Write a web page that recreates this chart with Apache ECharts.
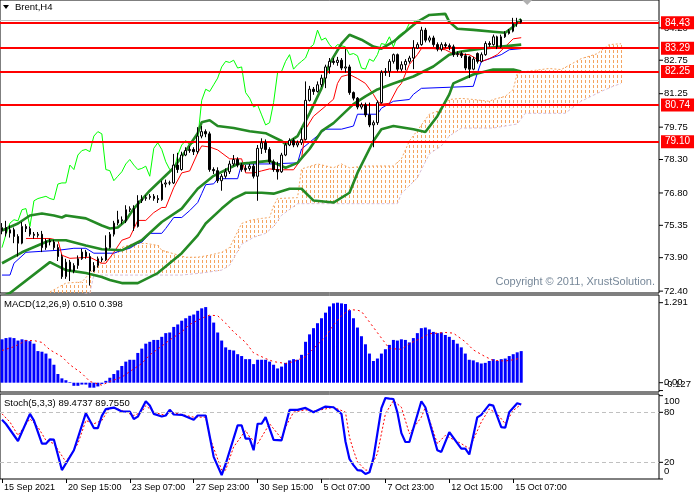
<!DOCTYPE html>
<html><head><meta charset="utf-8">
<script src="https://cdn.jsdelivr.net/npm/echarts@6/dist/echarts.min.js"></script>
<style>html,body{margin:0;padding:0;background:#fff}#c{width:700px;height:500px}</style>
</head><body><div id="c"></div>
<script>
// ---------- DATA ----------
const open = [75.10,75.25,75.00,75.15,74.85,74.55,75.30,75.20,74.95,74.90,
74.95,74.35,74.65,74.60,74.35,73.95,73.05,73.70,73.30,73.55,
73.85,74.15,73.95,73.30,73.55,73.85,73.80,74.35,74.95,75.45,
75.60,75.55,76.05,76.10,75.30,76.45,76.55,76.60,76.65,76.55,
76.50,77.20,77.25,77.25,78.05,77.85,78.50,78.70,78.75,78.65,
79.35,79.55,79.45,77.85,77.80,77.35,77.55,77.75,78.10,78.30,
78.05,77.85,77.90,78.00,77.55,78.80,79.05,78.75,78.20,77.85,
77.75,78.50,78.95,79.15,78.95,79.05,79.20,80.95,81.45,81.35,
81.65,81.95,82.45,82.70,82.65,82.75,82.40,82.45,81.30,81.05,
80.65,80.75,80.30,79.85,79.95,80.85,82.20,82.25,82.70,83.00,
82.35,82.55,82.70,82.85,83.30,83.45,84.10,83.65,83.75,83.45,
83.25,83.45,83.40,83.35,83.00,83.05,82.95,82.90,82.35,83.05,
82.70,83.00,83.50,83.45,83.80,83.35,83.80,83.95,84.05,84.40,
84.45];
const close = [75.25,75.00,75.15,74.85,74.55,75.30,75.20,74.95,74.90,74.95,
74.35,74.65,74.60,74.35,73.95,73.05,73.70,73.30,73.55,73.85,
74.15,73.95,73.30,73.55,73.85,73.80,74.35,74.95,75.45,75.60,
75.55,76.05,76.10,75.30,76.45,76.55,76.60,76.65,76.55,76.50,
77.20,77.25,77.25,78.05,77.85,78.50,78.70,78.75,78.65,79.35,
79.55,79.45,77.85,77.80,77.35,77.55,77.75,78.10,78.30,78.05,
77.85,77.90,78.00,77.55,78.80,79.05,78.75,78.20,77.85,77.75,
78.50,78.95,79.15,78.95,79.05,79.20,80.95,81.45,81.35,81.65,
81.95,82.45,82.70,82.65,82.75,82.40,82.45,81.30,81.05,80.65,
80.75,80.30,79.85,79.95,80.85,82.20,82.25,82.70,83.00,82.35,
82.55,82.70,82.85,83.30,83.45,84.10,83.65,83.75,83.45,83.25,
83.45,83.40,83.35,83.00,83.05,82.95,82.40,82.35,82.80,82.70,
83.00,83.50,83.45,83.80,83.35,83.80,83.95,84.05,84.40,84.45,
84.55];
const low = [74.95,74.85,74.80,74.55,73.95,74.50,75.05,74.85,74.75,74.80,
74.15,74.25,74.45,74.25,73.75,72.95,72.95,72.85,73.20,73.40,
73.80,73.85,72.65,73.25,73.45,73.70,73.75,74.30,74.85,75.35,
75.40,75.45,75.95,75.10,75.25,76.35,76.45,76.50,76.45,76.35,
76.45,77.05,77.15,77.20,77.70,77.80,78.45,78.60,78.50,78.55,
79.25,79.30,77.75,77.65,77.25,76.90,77.45,77.65,78.00,77.95,
77.75,77.75,77.80,77.45,76.45,78.55,78.60,78.10,77.75,77.40,
77.70,78.45,78.90,78.85,78.85,78.95,79.15,80.90,81.20,81.30,
81.55,81.50,82.15,82.55,82.50,82.30,82.20,81.20,80.95,80.55,
80.55,80.20,79.75,78.85,79.85,80.80,82.05,82.00,82.60,82.25,
82.25,82.30,82.60,82.35,83.25,83.40,83.55,83.55,83.35,83.15,
83.15,83.30,83.20,82.90,82.90,82.85,82.30,81.95,82.30,82.60,
82.65,82.95,83.35,83.40,83.25,83.30,83.75,83.90,84.00,84.25,
84.40];
const high = [75.45,75.55,75.35,75.25,74.95,75.50,75.40,75.30,75.05,75.05,
75.10,74.75,74.75,74.70,74.50,74.05,73.85,73.80,73.65,74.00,
74.30,74.25,74.10,73.70,73.95,73.95,74.90,75.05,75.55,76.00,
75.75,76.25,76.20,76.25,76.70,76.70,76.70,76.75,76.75,76.70,
77.35,77.40,77.35,78.55,78.60,78.65,78.85,78.90,78.85,79.75,
79.80,79.65,79.55,77.95,77.95,77.65,77.90,78.25,78.50,78.40,
78.15,78.05,78.10,78.10,78.95,79.25,79.20,78.85,78.30,78.20,
78.60,79.05,79.25,79.25,79.15,79.70,81.80,81.60,81.55,81.80,
82.10,82.55,82.85,82.85,82.90,82.85,83.25,82.55,81.35,81.10,
80.85,80.85,80.85,80.05,80.95,82.30,82.40,82.80,83.05,83.05,
82.70,82.80,82.95,83.65,83.55,84.25,84.20,83.85,83.85,83.55,
83.55,83.55,83.50,83.45,83.15,83.15,83.05,82.95,82.90,83.10,
83.10,83.60,83.60,83.90,83.85,83.90,84.05,84.15,84.65,84.65,
84.60];

const bbUpper = [[0,75.12],[4,75.43],[7,75.79],[10,75.88],[13,75.79],[15,75.70],[16,75.79],[21,75.66],[25,75.34],[27,75.21],[29,75.25],[31,75.57],[33,76.10],[37,76.90],[43,77.93],[46,78.68],[49,79.48],[50,79.97],[52,80.06],[54,79.80],[58,79.71],[62,79.57],[66,79.48],[70,79.13],[71,78.99],[74,79.35],[77,80.37],[80,81.49],[82,82.60],[85,83.49],[87,83.89],[90,83.67],[93,83.36],[95,83.27],[98,83.58],[101,84.03],[104,84.47],[107,84.78],[111,84.83],[112,84.47],[114,84.16],[118,84.11],[123,84.03],[126,83.98],[128,84.25],[130,84.60]];
const bbMiddle = [[0,73.65],[5,74.14],[12,74.68],[16,74.68],[21,74.45],[25,74.28],[30,74.23],[35,74.68],[40,75.50],[45,76.10],[49,76.99],[53,77.57],[59,78.10],[62,78.15],[67,78.24],[71,77.93],[74,78.15],[77,78.77],[80,79.57],[83,79.93],[88,80.78],[91,81.13],[94,81.44],[98,81.71],[103,82.02],[108,82.47],[112,83.00],[115,83.14],[120,83.27],[125,83.36],[130,83.45]];
const bbLower = [[0,72.15],[2,72.32],[12,73.70],[16,73.34],[21,73.21],[25,73.03],[27,72.90],[30,72.76],[34,72.76],[39,73.21],[45,74.10],[49,74.90],[51,75.43],[55,76.10],[58,76.55],[61,76.81],[65,76.81],[68,76.77],[72,76.99],[75,76.99],[78,76.46],[83,76.37],[87,76.81],[89,77.70],[93,79.13],[95,79.66],[98,79.80],[103,79.66],[106,79.53],[109,80.24],[112,81.22],[113,81.71],[118,82.11],[123,82.33],[128,82.33],[130,82.24]];
const tenkan = [[6,74.76],[12,74.76],[14,74.68],[15,74.01],[17,73.87],[22,73.92],[25,73.65],[26,73.65],[28,74.14],[30,74.68],[32,74.81],[34,75.57],[36,75.57],[38,75.92],[40,76.15],[41,76.15],[43,77.04],[45,77.70],[47,77.79],[49,78.59],[50,78.91],[52,78.86],[54,78.73],[57,78.33],[60,78.33],[61,77.70],[63,77.70],[65,77.79],[67,77.88],[69,77.84],[73,77.84],[75,78.33],[76,79.66],[78,80.24],[81,80.69],[83,81.00],[84,81.71],[85,82.02],[87,82.11],[89,81.93],[91,81.71],[93,81.22],[94,80.91],[95,80.78],[97,80.82],[99,81.50],[100,81.71],[102,82.56],[104,83.00],[105,83.27],[108,83.27],[111,83.22],[113,83.04],[117,83.00],[120,82.69],[122,82.82],[124,83.00],[126,83.36],[128,83.71],[130,83.76]];
const kijun = [[0,73.12],[2,73.12],[3,73.65],[6,74.14],[14,74.23],[18,74.32],[21,74.32],[23,74.10],[28,74.10],[30,74.23],[32,74.32],[34,74.54],[35,74.59],[37,74.99],[40,74.99],[41,75.21],[43,75.70],[45,75.70],[47,76.01],[49,76.37],[50,76.77],[51,77.17],[53,77.21],[54,77.44],[59,77.44],[60,78.10],[67,78.10],[74,78.15],[75,78.77],[81,79.66],[85,79.66],[88,79.80],[89,80.33],[94,80.33],[95,80.60],[98,80.91],[102,80.99],[103,81.22],[105,81.49],[118,81.58],[119,82.16],[120,82.69],[125,83.00],[127,83.22],[130,83.27]];
const senkouA = [[12,72.36],[16,72.76],[20,72.81],[22,73.21],[24,73.56],[27,73.87],[30,74.36],[33,74.54],[36,74.54],[39,74.45],[40,74.23],[46,73.92],[49,73.92],[52,74.01],[55,74.14],[57,74.36],[60,75.43],[62,75.57],[65,75.66],[67,75.70],[68,76.23],[69,76.55],[74,76.59],[75,77.88],[76,77.93],[79,78.10],[83,77.93],[85,78.10],[87,77.93],[91,78.01],[98,78.01],[100,78.33],[102,79.13],[104,79.60],[107,80.33],[109,80.46],[112,80.99],[115,81.04],[118,80.99],[122,80.91],[123,80.99],[126,81.13],[128,81.44],[129,82.16],[131,82.24],[137,82.38],[140,82.33],[145,82.82],[149,83.04],[152,83.45],[155,83.49]];
const senkouB = [[12,72.00],[22,72.32],[23,73.12],[40,73.12],[45,73.12],[50,73.21],[55,73.34],[57,73.56],[60,74.50],[63,74.81],[66,74.99],[68,75.30],[70,75.80],[74,76.32],[99,76.32],[100,76.77],[104,77.48],[107,78.55],[110,78.91],[112,79.35],[115,79.71],[123,79.71],[129,79.89],[131,80.37],[141,80.37],[145,80.91],[150,81.35],[153,81.58],[155,81.71]];
const chikouShift = 26;
const levels = [84.43, 83.29, 82.25, 80.74, 79.10];
const bidPrice = 84.55;
const priceTicks = [84.20, 82.75, 81.25, 79.75, 78.30, 76.80, 75.35, 73.90, 72.40];

const macdHist = [0.70,0.72,0.73,0.72,0.68,0.70,0.69,0.67,0.63,0.51,
0.50,0.47,0.39,0.29,0.14,0.07,0.04,0.01,-0.05,-0.05,
-0.03,-0.03,-0.08,-0.08,-0.06,-0.02,0.03,0.08,0.14,0.20,
0.27,0.34,0.37,0.37,0.48,0.55,0.63,0.66,0.69,0.69,
0.74,0.80,0.81,0.90,0.94,1.00,1.04,1.08,1.10,1.16,
1.20,1.22,1.08,0.97,0.81,0.68,0.57,0.53,0.52,0.46,
0.43,0.38,0.38,0.30,0.37,0.37,0.37,0.34,0.29,0.23,
0.26,0.32,0.36,0.38,0.37,0.45,0.66,0.78,0.88,0.96,
1.04,1.13,1.23,1.28,1.291,1.28,1.27,1.17,1.04,0.89,
0.75,0.62,0.47,0.35,0.39,0.47,0.54,0.61,0.69,0.68,
0.70,0.69,0.65,0.72,0.80,0.88,0.89,0.86,0.82,0.80,
0.81,0.77,0.74,0.69,0.63,0.57,0.47,0.37,0.36,0.33,
0.31,0.32,0.35,0.38,0.35,0.38,0.39,0.43,0.46,0.49,
0.51];
const macdSignal = [[0,0.52],[3,0.58],[6,0.68],[8,0.68],[10,0.65],[12,0.53],[15,0.42],[17,0.29],[20,0.15],[22,0.02],[25,-0.04],[27,0.02],[30,0.09],[32,0.18],[35,0.31],[37,0.45],[40,0.59],[42,0.69],[45,0.82],[47,0.94],[50,1.04],[52,1.09],[54,1.08],[56,0.96],[58,0.82],[61,0.65],[63,0.48],[66,0.39],[68,0.34],[71,0.31],[73,0.34],[76,0.42],[78,0.55],[81,0.74],[83,0.93],[85,1.08],[87,1.18],[89,1.17],[90,1.15],[92,0.98],[95,0.72],[97,0.55],[100,0.54],[102,0.63],[105,0.72],[107,0.79],[111,0.81],[113,0.80],[116,0.66],[118,0.53],[121,0.42],[123,0.36],[126,0.35],[128,0.37],[130,0.398]];
const macdTicks = [[1.291,'1.291'],[0,'0.00'],[-0.127,'-0.127']];

const stochMain = [[0,71],[1,66],[4,45.6],[7,78.2],[8,70],[10,42.4],[11,42.4],[12,47.6],[13,47.2],[15,10.7],[18,34.5],[21,79],[23,61.1],[24,61.1],[25,75.8],[26,83.8],[28,85.7],[30,81],[32,81],[33,72],[34,74.8],[36,93.3],[37,88.1],[38,78.2],[40,75],[41,76.2],[42,83],[43,77.4],[45,77],[48,71],[49,76.2],[51,76.2],[53,26.6],[55,4.8],[56,18],[59,64.3],[60,64.3],[61,48.4],[62,48.4],[63,34.5],[64,66.3],[65,66.3],[66,74.2],[68,47],[70,46.4],[72,82.9],[74,82.9],[76,85.3],[78,80.2],[81,86.9],[83,86.1],[85,78.2],[86,45],[87,24],[88,16.7],[89,10.7],[90,10],[91,6],[92,8],[93,25],[94,55],[95,85],[96,97.2],[97,96.5],[98,96],[99,80],[100,55],[101,44.4],[102,44.4],[105,93.3],[106,86.1],[109,34.5],[110,32.5],[112,56.3],[115,36.5],[116,36.5],[117,29.4],[119,74],[120,77],[122,89.3],[123,88.1],[125,62.3],[126,61.5],[127,80.2],[129,90.9],[130,89.47]];
const stochSignal = [[0,78.2],[2,68.3],[4,52.4],[7,72.2],[9,62.3],[11,46.4],[13,42.4],[16,20.6],[19,42.4],[21,70.2],[23,66.3],[25,70.2],[27,86.1],[29,84.1],[31,80.2],[33,76.2],[35,80.2],[36,88.1],[38,80.2],[41,76.2],[42,80.2],[45,77.4],[48,74.2],[51,74.2],[52,50.4],[55,10.7],[56,10.7],[58,38.5],[61,58.3],[62,50.4],[64,42.4],[66,58.3],[67,66.3],[70,48.4],[71,62.3],[73,80.2],[76,83],[78,81.3],[81,84.1],[83,86.1],[86,80.2],[87,50],[88,34.5],[89,20.6],[91,10.7],[92,10.7],[94,30.6],[96,78.2],[98,94],[100,86.1],[102,54.4],[105,74.2],[106,86.1],[109,42.4],[111,52.4],[115,42.4],[117,36.5],[120,68.3],[122,84.1],[124,78.2],[126,66.3],[128,82.2],[130,89.76]];
const stochLevels = [80, 20];
const stochTicks = [100, 80, 20, 0];

const timeLabels = ['15 Sep 2021','20 Sep 15:00','23 Sep 07:00','27 Sep 23:00','30 Sep 15:00','5 Oct 07:00','7 Oct 23:00','12 Oct 15:00','15 Oct 07:00'];
const labelEvery = 16;
const slotCount = 165;

// ---------- BUILD ----------
const cats = Array.from({length: slotCount}, (_, i) => String(i));
const candles = open.map((o, i) => [o, close[i], low[i], high[i]]);
const chikou = close.slice(chikouShift).map((c, i) => [i, c]);
const showTick = (idx) => idx % labelEvery === 0 && idx / labelEvery < timeLabels.length;

// one hatch column per bar slot inside the cloud
const cloudSlots = [];
for (let i = senkouA[0][0]; i <= senkouA[senkouA.length - 1][0]; i++) cloudSlots.push([i, 0]);

function edgeAt(pts, x) {
  for (let k = 0; k < pts.length - 1; k++) {
    const a = pts[k], b = pts[k + 1];
    if (x >= a[0] && x <= b[0]) {
      const t = b[0] === a[0] ? 0 : (x - a[0]) / (b[0] - a[0]);
      return a[1] + t * (b[1] - a[1]);
    }
  }
  return null;
}

const FONT = '"Liberation Sans", Arial, sans-serif';
const GREEN = '#248A24';
const CLOUD = '#F4A460';
const lineS = (data, color, width, z, extra) => Object.assign({type:'line', xAxisIndex:0, yAxisIndex:0, data, symbol:'none', z,
  lineStyle:{color, width}, silent:true, animation:false}, extra || {});

const xBase = {type:'category', data:cats, boundaryGap:true, axisLine:{show:false}, axisTick:{show:false}, axisLabel:{show:false}, splitLine:{show:false}};
const yBase = {type:'value', scale:true, axisLine:{show:false}, axisTick:{show:false}, axisLabel:{show:false}, splitLine:{show:false}};

const option = {
  animation:false,
  backgroundColor:'#ffffff',
  grid:[
    {left:-1, right:41, top:-2, height:295, show:true, borderColor:'#000', borderWidth:1, backgroundColor:'transparent'},
    {left:-1, right:41, top:295, height:97, show:true, borderColor:'#000', borderWidth:1, backgroundColor:'transparent'},
    {left:-1, right:41, top:394, height:85, show:true, borderColor:'#000', borderWidth:1, backgroundColor:'transparent'}
  ],
  xAxis:[
    Object.assign({}, xBase, {gridIndex:0}),
    Object.assign({}, xBase, {gridIndex:1}),
    Object.assign({}, xBase, {gridIndex:2,
      axisTick:{show:true, alignWithLabel:true, interval:showTick, length:4, lineStyle:{color:'#000'}},
      axisLabel:{show:true, interval:showTick, align:'left', margin:4, padding:[0,0,0,2],
        color:'#000', fontFamily:FONT, fontSize:9, formatter:(v, i) => timeLabels[i / labelEvery] || ''}})
  ],
  yAxis:[
    Object.assign({}, yBase, {gridIndex:0, min:72.316, max:85.45}),
    Object.assign({}, yBase, {gridIndex:1, min:-0.150, max:1.415}),
    Object.assign({}, yBase, {gridIndex:2, min:0, max:102})
  ],
  series:[
    {type:'custom', xAxisIndex:0, yAxisIndex:0, z:1, clip:true, silent:true, animation:false, progressive:0,
     data:cloudSlots, encode:{x:0, y:1},
     renderItem:(params, api) => {
       const i = api.value(0);
       const x = api.coord([i, 0])[0];
       const ap = senkouA.map(d => api.coord(d));
       const bp = senkouB.map(d => api.coord(d));
       const ya = edgeAt(ap, x), yb = edgeAt(bp, x);
       if (ya == null || yb == null) return null;
       const y1 = Math.min(ya, yb), y2 = Math.max(ya, yb);
       const xs = Math.round(x);
       const kids = [];
       for (let yy = Math.floor(y1 / 5) * 5; yy < y2; yy += 5) {
         const t = Math.max(yy, Math.round(y1)), b = Math.min(yy + 3, Math.round(y2));
         if (b > t) kids.push({type:'rect', shape:{x:xs, y:t, width:1, height:b - t},
           style:{fill:CLOUD, stroke:null}});
       }
       return {type:'group', children:kids};
     }},
    lineS(senkouA, CLOUD, 1, 2, {lineStyle:{color:CLOUD, width:1, type:[2,2]}}),
    lineS(senkouB, '#D8BFD8', 1, 2, {lineStyle:{color:'#D8BFD8', width:1, type:[3,2]}}),
    lineS(chikou, '#00FF00', 1, 3),
    lineS(kijun, '#0000FF', 1, 3),
    lineS(tenkan, '#FF0000', 1, 3),
    lineS(bbUpper, GREEN, 2.6, 4),
    lineS(bbMiddle, GREEN, 2.6, 4),
    lineS(bbLower, GREEN, 2.6, 4),
    {type:'candlestick', xAxisIndex:0, yAxisIndex:0, data:candles, barWidth:2, z:5, silent:true, animation:false,
     itemStyle:{color:'#ffffff', color0:'#000000', borderColor:'#000000', borderColor0:'#000000', borderWidth:1},
     markLine:{silent:true, symbol:['none','none'], animation:false, label:{show:false},
       lineStyle:{color:'#C0C0C0', width:1, type:'solid'}, data:[{yAxis:bidPrice}]}},
    {type:'line', xAxisIndex:0, yAxisIndex:0, data:[], z:8, silent:true, animation:false,
     markLine:{silent:true, symbol:['none','none'], animation:false,
       lineStyle:{color:'#FF0000', width:2.2, type:'solid'},
       label:{show:true, position:'end', distance:2, formatter:(p) => p.value.toFixed(2),
         color:'#ffffff', backgroundColor:'#FF0000', padding:[2,4,1,4], fontFamily:FONT, fontSize:10},
       data: levels.map(v => ({yAxis:v}))}},
    {type:'bar', xAxisIndex:1, yAxisIndex:1, data:macdHist, barWidth:3, itemStyle:{color:'#0000FF'}, silent:true, animation:false, z:2},
    {type:'line', xAxisIndex:1, yAxisIndex:1, data:macdSignal, symbol:'none', z:3, silent:true, animation:false,
     lineStyle:{color:'#FF0000', width:1, type:[2,3]}},
    {type:'line', xAxisIndex:2, yAxisIndex:2, data:stochSignal, symbol:'none', z:3, silent:true, animation:false,
     lineStyle:{color:'#FF0000', width:1, type:[2,2]},
     markLine:{silent:true, symbol:['none','none'], animation:false, label:{show:false},
       lineStyle:{color:'#C0C0C0', width:1, type:[4,3]}, data: stochLevels.map(v => ({yAxis:v}))}},
    {type:'line', xAxisIndex:2, yAxisIndex:2, data:stochMain, symbol:'none', z:4, silent:true, animation:false,
     lineStyle:{color:'#0000FF', width:2.2}}
  ]
};

const chart = echarts.init(document.getElementById('c'), null, {renderer:'canvas'});
chart.setOption(option);

// ---------- axis labels & texts ----------
const g = [];
const gridRect = (i) => chart.getModel().getComponent('grid', i).coordinateSystem.getRect();
const axisEdge = gridRect(0).x + gridRect(0).width;
function addLabels(axisIdx, ticks, clampIt) {
  const r = gridRect(axisIdx);
  ticks.forEach(([v, txt]) => {
    const y = chart.convertToPixel({yAxisIndex:axisIdx}, v);
    g.push({type:'line', z:1, shape:{x1:axisEdge, y1:y, x2:axisEdge+4, y2:y}, style:{stroke:'#000', lineWidth:1}});
    let ty = y;
    if (clampIt) ty = Math.min(Math.max(y, r.y + 7.5), r.y + r.height - 8);
    g.push({type:'text', z:1, x:axisEdge+5, y:ty, style:{text:txt, font:'9.5px ' + FONT, fill:'#000', verticalAlign:'middle', align:'left'}});
  });
}
addLabels(0, priceTicks.map(v => [v, v.toFixed(2)]), false);
addLabels(1, macdTicks, true);
addLabels(2, stochTicks.map(v => [v, String(v)]), true);

g.push({type:'polygon', z:1, shape:{points:[[3,5],[9,5],[6,9]]}, style:{fill:'#000'}});
g.push({type:'text', z:1, x:15, y:7, style:{text:'Brent,H4', font:'9.5px ' + FONT, fill:'#000', verticalAlign:'middle'}});
g.push({type:'text', z:1, x:4, y:304, style:{text:'MACD(12,26,9) 0.510 0.398', font:'9.5px ' + FONT, fill:'#000', verticalAlign:'middle'}});
g.push({type:'text', z:1, x:4, y:403, style:{text:'Stoch(5,3,3) 89.4737 89.7550', font:'9.5px ' + FONT, fill:'#000', verticalAlign:'middle'}});
g.push({type:'text', z:1, x:655, y:282, style:{text:'Copyright \u00A9 2011, XrustSolution.', font:'11px ' + FONT, fill:'#778899', verticalAlign:'middle', align:'right'}});
const shiftX = chart.convertToPixel({xAxisIndex:0}, close.length) + 2;
g.push({type:'polygon', z:1, shape:{points:[[shiftX-5,0],[shiftX+5,0],[shiftX,5]]}, style:{fill:'#B0B0B0'}});

chart.setOption({graphic:{elements:g}});
</script>
</body></html>
